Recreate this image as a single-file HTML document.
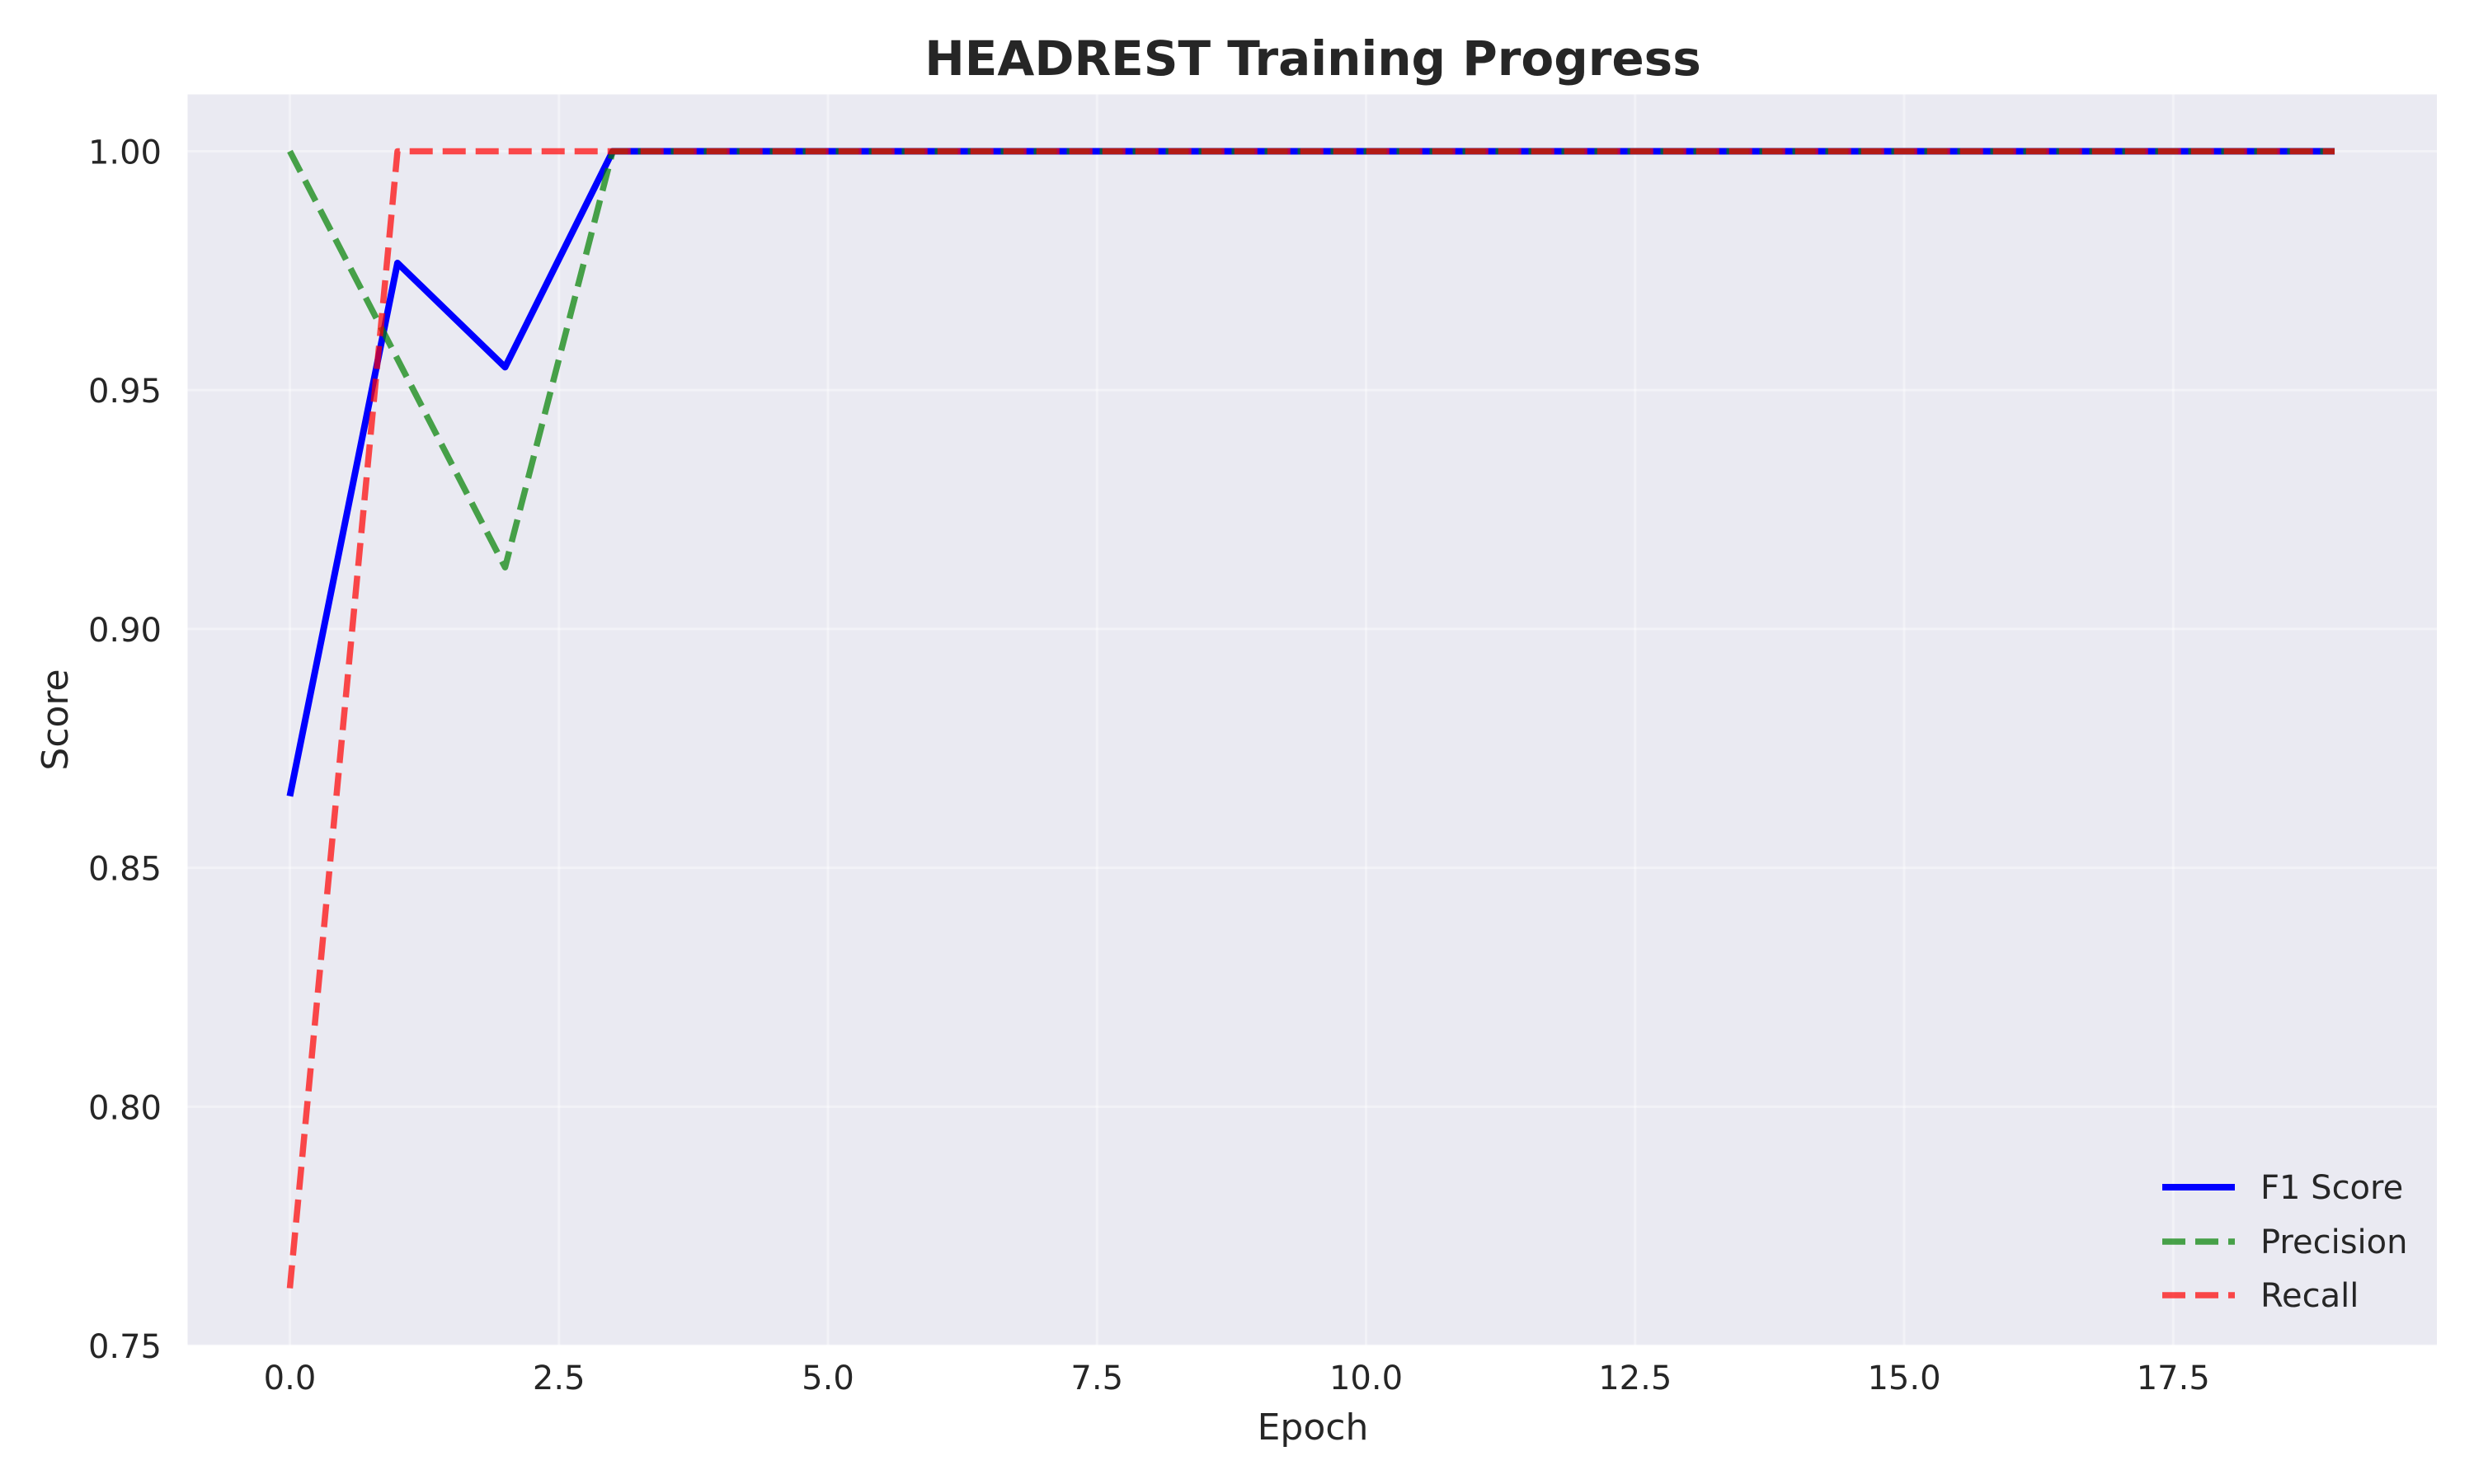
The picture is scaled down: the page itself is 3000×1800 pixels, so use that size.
<!DOCTYPE html>
<html><head><meta charset="utf-8"><style>
body{margin:0;background:#fff}
svg{display:block;font-family:"DejaVu Sans","Liberation Sans",sans-serif}
</style></head><body>
<svg id="chart" width="3000" height="1800" viewBox="0 0 3000 1800" xmlns="http://www.w3.org/2000/svg">
<rect x="0" y="0" width="3000" height="1800" fill="#fff"/>
<rect x="227.5" y="114.5" width="2727.5" height="1517" fill="#EAEAF2"/>
<g id="grid"></g>
<g id="ticks"></g>
<g id="series"></g>
<text x="1592" y="91" font-size="58" font-weight="bold" text-anchor="middle" fill="#262626">HEADREST Training Progress</text>
<text x="1592" y="1746" font-size="44" text-anchor="middle" fill="#262626">Epoch</text>
<text x="0" y="0" font-size="44" text-anchor="middle" fill="#262626" transform="translate(82,873) rotate(-90)">Score</text>
<g id="legend"></g>
</svg>
<script>
const epochs=[0,1,2,3,4,5,6,7,8,9,10,11,12,13,14,15,16,17,18,19];
const f1=[0.865,0.9766,0.9548,1,1,1,1,1,1,1,1,1,1,1,1,1,1,1,1,1];
const precision=[1.0,0.9565,0.9129,1,1,1,1,1,1,1,1,1,1,1,1,1,1,1,1,1];
const recall=[0.762,1,1,1,1,1,1,1,1,1,1,1,1,1,1,1,1,1,1,1];
const xTicks=[0,2.5,5,7.5,10,12.5,15,17.5];
const xTickLabels=["0.0","2.5","5.0","7.5","10.0","12.5","15.0","17.5"];
const yTicks=[0.75,0.8,0.85,0.9,0.95,1.0];
const yTickLabels=["0.75","0.80","0.85","0.90","0.95","1.00"];

const L=227.5,R=2955,T=114.5,B=1631.5;
const xMin=-0.95,xMax=19.95,yMin=0.7501,yMax=1.0119;
const sx=v=>L+(v-xMin)/(xMax-xMin)*(R-L);
const sy=v=>B-(v-yMin)/(yMax-yMin)*(B-T);
const NS="http://www.w3.org/2000/svg";
function mk(tag,attrs,parent){const e=document.createElementNS(NS,tag);for(const k in attrs)e.setAttribute(k,attrs[k]);parent.appendChild(e);return e;}
const grid=document.getElementById('grid'),ticks=document.getElementById('ticks'),series=document.getElementById('series'),legend=document.getElementById('legend');
xTicks.forEach((v,i)=>{
  const g=mk('line',{x1:sx(v),x2:sx(v),y1:T,y2:B,stroke:'#fff','stroke-width':3,'stroke-opacity':0.4},grid);
  
  
  const t=mk('text',{x:sx(v),y:1685,'font-size':40,'text-anchor':'middle',fill:'#262626'},ticks);
  t.textContent=xTickLabels[i];
  
  
});
yTicks.forEach((v,i)=>{
  const g=mk('line',{x1:L,x2:R,y1:sy(v),y2:sy(v),stroke:'#fff','stroke-width':3,'stroke-opacity':0.4},grid);
  
  
  const t=mk('text',{x:196,y:sy(v)+15,'font-size':40,'text-anchor':'end',fill:'#262626'},ticks);
  t.textContent=yTickLabels[i];
  
  
});
function pts(arr){return epochs.map((e,i)=>sx(e)+','+sy(arr[i])).join(' ');}
const defs=[
 {arr:f1,color:'#0000FF',op:1,dash:'',w:8,name:'f1-score-line',label:'F1 Score'},
 {arr:precision,color:'#008000',op:0.7,dash:'28,12',w:7.5,name:'precision-line',label:'Precision'},
 {arr:recall,color:'#FF0000',op:0.7,dash:'28,12',w:7.5,name:'recall-line',label:'Recall'}
];
defs.forEach(d=>{
  const p=mk('polyline',{points:pts(d.arr),fill:'none',stroke:d.color,'stroke-opacity':d.op,'stroke-width':d.w,'stroke-linejoin':'round'},series);
  if(d.dash)p.setAttribute('stroke-dasharray',d.dash);
  
  
});
const legY=[1440,1506,1571];
defs.forEach((d,i)=>{
  const l=mk('line',{x1:2622,x2:2710,y1:legY[i],y2:legY[i],stroke:d.color,'stroke-opacity':d.op,'stroke-width':d.w},legend);
  if(d.dash)l.setAttribute('stroke-dasharray',d.dash);
  
  
  const t=mk('text',{x:2741,y:legY[i]+14,'font-size':40,fill:'#262626'},legend);
  t.textContent=d.label;
  
  
});
</script>
</body></html>
